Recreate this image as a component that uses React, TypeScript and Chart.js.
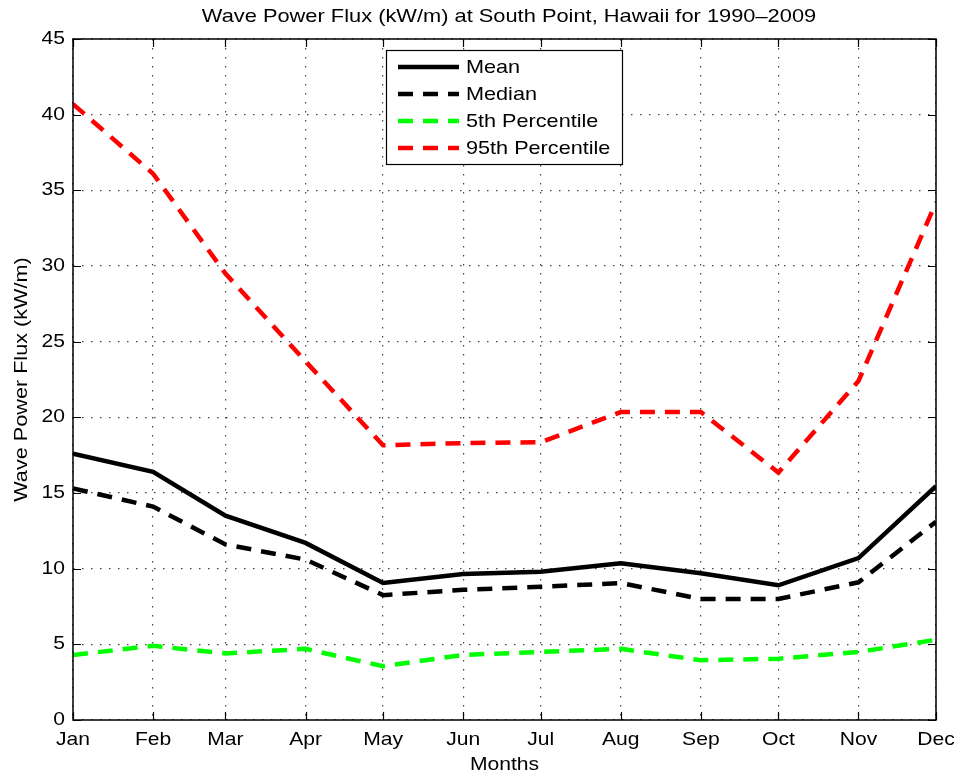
import React, { useEffect, useRef } from "react";
import { Chart, registerables } from "chart.js";

Chart.register(...registerables);

const months = ["Jan", "Feb", "Mar", "Apr", "May", "Jun", "Jul", "Aug", "Sep", "Oct", "Nov", "Dec"];
const monthDay = [1, 32, 60, 91, 121, 152, 182, 213, 244, 274, 305, 335];
const meanFlux = [17.6, 16.4, 13.5, 11.7, 9.05, 9.65, 9.8, 10.35, 9.7, 8.9, 10.7, 15.45];
const medianFlux = [15.3, 14.1, 11.6, 10.6, 8.25, 8.6, 8.8, 9.05, 8.0, 8.0, 9.1, 13.1];
const p5Flux = [4.3, 4.9, 4.4, 4.7, 3.55, 4.3, 4.5, 4.7, 3.95, 4.05, 4.5, 5.3];
const p95Flux = [40.7, 36.1, 29.5, 23.7, 18.15, 18.3, 18.35, 20.35, 20.35, 16.35, 22.4, 34.2];
const yTicks = [0, 5, 10, 15, 20, 25, 30, 35, 40, 45];

const FONT = "'Liberation Sans', Arial, Helvetica, sans-serif";
const DASH = [15, 10];

const toPts = (vals: number[]) => vals.map((v, i) => ({ x: monthDay[i], y: v }));

function txt(ctx: any, s: string, x: number, y: number, align: string, size: number, sx: number, rot = 0) {
  ctx.save();
  ctx.translate(x, y);
  if (rot) ctx.rotate(rot);
  ctx.scale(sx, 1);
  ctx.font = `${size}px ${FONT}`;
  ctx.textAlign = align;
  ctx.textBaseline = "middle";
  ctx.fillStyle = "#000";
  ctx.fillText(s, 0, 0);
  ctx.restore();
}

const framePlugin = {
  id: "matlabFrame",
  afterDatasetsDraw(chart: any) {
    const ctx = chart.ctx;
    const { left, right, top, bottom } = chart.chartArea;
    const xs = chart.scales.x;
    const ys = chart.scales.y;
    ctx.save();
    ctx.strokeStyle = "#000";
    ctx.lineWidth = 1.5;
    ctx.setLineDash([]);
    ctx.strokeRect(left, top, right - left, bottom - top);
    const tl = 8;
    ctx.lineWidth = 1.2;
    ctx.beginPath();
    monthDay.forEach((d) => {
      const px = Math.round(xs.getPixelForValue(d)) + 0.5;
      ctx.moveTo(px, bottom);
      ctx.lineTo(px, bottom - tl);
      ctx.moveTo(px, top);
      ctx.lineTo(px, top + tl);
    });
    yTicks.forEach((v) => {
      const py = Math.round(ys.getPixelForValue(v)) + 0.5;
      ctx.moveTo(left, py);
      ctx.lineTo(left + tl, py);
      ctx.moveTo(right, py);
      ctx.lineTo(right - tl, py);
    });
    ctx.stroke();
    ctx.restore();

    // tick labels
    monthDay.forEach((d, i) => {
      txt(ctx, months[i], xs.getPixelForValue(d), bottom + 20, "center", 18.5, 1.14);
    });
    yTicks.forEach((v) => {
      txt(ctx, String(v), left - 8, ys.getPixelForValue(v), "right", 18.5, 1.14);
    });

    // legend
    ctx.save();
    const lx = 386.5, ly = 50.5, lw = 236, lh = 114;
    ctx.fillStyle = "#fff";
    ctx.fillRect(lx, ly, lw, lh);
    ctx.strokeStyle = "#000";
    ctx.lineWidth = 1.2;
    ctx.strokeRect(lx, ly, lw, lh);
    ctx.restore();
    const rows = [67, 94, 121, 148];
    chart.data.datasets.forEach((ds: any, i: number) => {
      const y = rows[i];
      ctx.save();
      ctx.strokeStyle = ds.borderColor;
      ctx.lineWidth = ds.borderWidth;
      ctx.setLineDash(ds.borderDash || []);
      ctx.beginPath();
      ctx.moveTo(398, y);
      ctx.lineTo(459, y);
      ctx.stroke();
      ctx.restore();
      txt(ctx, ds.label, 466, y + 1, "left", 18.5, 1.17);
    });

    // titles
    txt(ctx, "Wave Power Flux (kW/m) at South Point, Hawaii for 1990\u20132009", 509, 17, "center", 18.5, 1.18);
    txt(ctx, "Months", (left + right) / 2, 765, "center", 18.5, 1.14);
    txt(ctx, "Wave Power Flux (kW/m)", 22, (top + bottom) / 2, "center", 18.5, 1.17, -Math.PI / 2);
  },
};

export default function App() {
  const ref = useRef<HTMLCanvasElement | null>(null);
  useEffect(() => {
    document.body.style.margin = "0";
    const canvas = ref.current;
    if (!canvas) return;
    const chart = new Chart(canvas, {
      type: "line",
      data: {
        datasets: [
          { label: "Mean", data: toPts(meanFlux), borderColor: "#000", borderWidth: 4.5, pointRadius: 0, tension: 0 },
          { label: "Median", data: toPts(medianFlux), borderColor: "#000", borderWidth: 4.5, borderDash: DASH, pointRadius: 0, tension: 0 },
          { label: "5th Percentile", data: toPts(p5Flux), borderColor: "#00ff00", borderWidth: 4.5, borderDash: DASH, pointRadius: 0, tension: 0 },
          { label: "95th Percentile", data: toPts(p95Flux), borderColor: "#ff0000", borderWidth: 4.5, borderDash: DASH, pointRadius: 0, tension: 0 },
        ],
      },
      options: {
        animation: false,
        responsive: false,
        devicePixelRatio: 1,
        layout: { padding: { top: 39, right: 24, left: 0, bottom: 0 } },
        plugins: { legend: { display: false }, title: { display: false }, tooltip: { enabled: false } },
        scales: {
          x: {
            type: "linear",
            min: monthDay[0],
            max: monthDay[monthDay.length - 1],
            afterBuildTicks: (s: any) => {
              s.ticks = monthDay.map((v) => ({ value: v }));
            },
            afterFit: (s: any) => {
              s.height = 57;
            },
            ticks: { display: false },
            grid: { color: "#444", lineWidth: 1.2, drawTicks: false },
            border: { display: false, dash: [1.5, 7.5] },
          },
          y: {
            min: 0,
            max: 45,
            afterBuildTicks: (s: any) => {
              s.ticks = yTicks.map((v) => ({ value: v }));
            },
            afterFit: (s: any) => {
              s.width = 73;
            },
            ticks: { display: false },
            grid: { color: "#444", lineWidth: 1.2, drawTicks: false },
            border: { display: false, dash: [1.5, 7.5] },
          },
        },
      },
      plugins: [framePlugin],
    });
    return () => chart.destroy();
  }, []);
  return (
    <div style={{ width: 960, height: 777, background: "#fff" }}>
      <canvas ref={ref} width={960} height={777} />
    </div>
  );
}
